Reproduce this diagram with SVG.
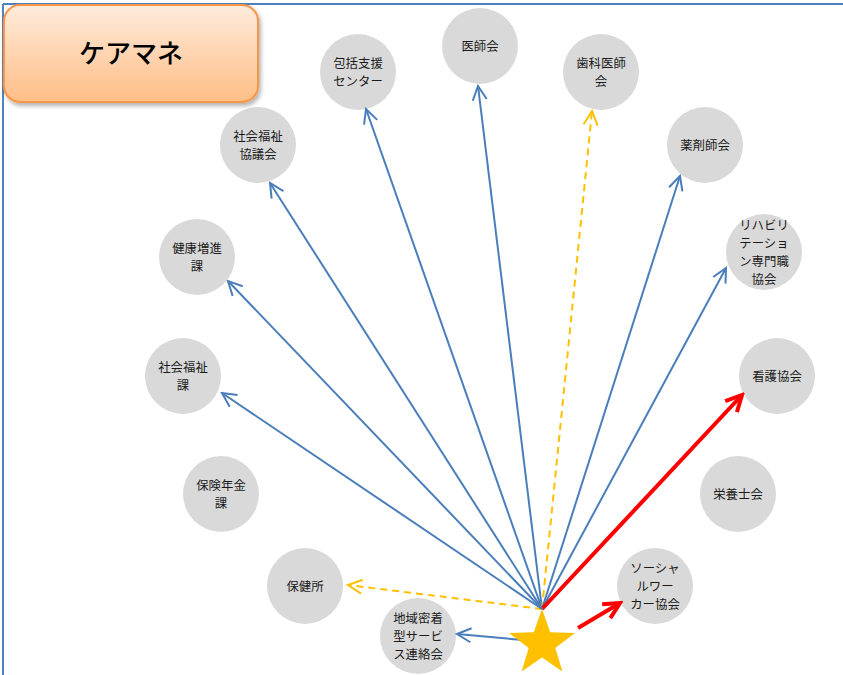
<svg xmlns="http://www.w3.org/2000/svg" width="843" height="675" viewBox="0 0 843 675">
<defs>
<linearGradient id="tg" x1="0" y1="0" x2="0" y2="1">
<stop offset="0" stop-color="#FFEBDC"/>
<stop offset="1" stop-color="#FFBE86"/>
</linearGradient>
<filter id="sh" x="-10%" y="-10%" width="130%" height="140%">
<feDropShadow dx="2" dy="3" stdDeviation="2" flood-color="#000" flood-opacity="0.3"/>
</filter>
<marker id="ab" markerUnits="userSpaceOnUse" markerWidth="18" markerHeight="18" viewBox="0 0 18 18" refX="16" refY="9" orient="auto">
<path d="M2,2 L16,9 L2,16" fill="none" stroke="#4A7EBB" stroke-width="2"/>
</marker>
<marker id="ay" markerUnits="userSpaceOnUse" markerWidth="18" markerHeight="18" viewBox="0 0 18 18" refX="16" refY="9" orient="auto">
<path d="M2,2 L16,9 L2,16" fill="none" stroke="#FFC000" stroke-width="2"/>
</marker>
<marker id="ar" markerUnits="userSpaceOnUse" markerWidth="22" markerHeight="22" viewBox="0 0 22 22" refX="19" refY="11" orient="auto">
<path d="M3,3 L19,11 L3,19" fill="none" stroke="#FF0000" stroke-width="4"/>
</marker>
</defs>
<style>
.n{fill:#D9D9D9}
.t{font-family:"Noto Sans CJK JP","Noto Sans",sans-serif;font-size:12.4px;fill:#1a1a1a;text-anchor:middle}
.b{fill:none;stroke:#4A7EBB;stroke-width:2;marker-end:url(#ab)}
.y{fill:none;stroke:#FFC000;stroke-width:2;stroke-dasharray:7,5;marker-end:url(#ay)}
.r{fill:none;stroke:#FF0000;stroke-width:4;marker-end:url(#ar)}
</style>
<rect width="843" height="675" fill="#fff"/>
<g id="frame">
<line x1="3" y1="4" x2="843" y2="4" stroke="#4F81BD" stroke-width="2"/>
<line x1="3" y1="4" x2="3" y2="675" stroke="#4F81BD" stroke-width="2"/>
</g>
<g id="n-hokatsu"><circle class="n" cx="358" cy="72" r="38"/><text class="t" x="358" y="68">包括支援</text><text class="t" x="358" y="86">センター</text></g>
<g id="n-ishikai"><circle class="n" cx="480" cy="46" r="38"/><text class="t" x="480" y="51">医師会</text></g>
<g id="n-shika"><circle class="n" cx="601" cy="72" r="38"/><text class="t" x="601" y="68">歯科医師</text><text class="t" x="601" y="86">会</text></g>
<g id="n-yakuzai"><circle class="n" cx="705" cy="145" r="38"/><text class="t" x="705" y="150">薬剤師会</text></g>
<g id="n-reha"><circle class="n" cx="764" cy="252" r="38"/><text class="t" x="764" y="230">リハビリ</text><text class="t" x="764" y="248">テーショ</text><text class="t" x="764" y="266">ン専門職</text><text class="t" x="764" y="284">協会</text></g>
<g id="n-kango"><circle class="n" cx="777" cy="376" r="38"/><text class="t" x="777" y="381">看護協会</text></g>
<g id="n-eiyo"><circle class="n" cx="738" cy="494" r="38"/><text class="t" x="738" y="499">栄養士会</text></g>
<g id="n-sw"><circle class="n" cx="655" cy="586" r="38"/><text class="t" x="655" y="573">ソーシャ</text><text class="t" x="655" y="591">ルワー</text><text class="t" x="655" y="609">カー協会</text></g>
<g id="n-chiiki"><circle class="n" cx="418" cy="636" r="38"/><text class="t" x="418" y="623">地域密着</text><text class="t" x="418" y="641">型サービ</text><text class="t" x="418" y="659">ス連絡会</text></g>
<g id="n-hokenjo"><circle class="n" cx="305" cy="586" r="38"/><text class="t" x="305" y="591">保健所</text></g>
<g id="n-nenkin"><circle class="n" cx="221" cy="494" r="38"/><text class="t" x="221" y="490">保険年金</text><text class="t" x="221" y="508">課</text></g>
<g id="n-shakaika"><circle class="n" cx="183" cy="376" r="38"/><text class="t" x="183" y="372">社会福祉</text><text class="t" x="183" y="390">課</text></g>
<g id="n-kenko"><circle class="n" cx="197" cy="257" r="38"/><text class="t" x="197" y="253">健康増進</text><text class="t" x="197" y="271">課</text></g>
<g id="n-shakyo"><circle class="n" cx="258" cy="145" r="38"/><text class="t" x="258" y="141">社会福祉</text><text class="t" x="258" y="159">協議会</text></g>
<g id="connectors">
<line class="b" x1="542" y1="609" x2="366" y2="109"/>
<line class="b" x1="542" y1="609" x2="478" y2="86"/>
<line class="y" x1="542" y1="609" x2="592" y2="111"/>
<line class="b" x1="542" y1="609" x2="680" y2="176"/>
<line class="b" x1="542" y1="609" x2="726" y2="268"/>
<line class="r" x1="542" y1="609" x2="742" y2="395"/>
<line class="r" x1="578" y1="628" x2="620" y2="603"/>
<line class="b" x1="523" y1="640" x2="457" y2="634"/>
<line class="y" x1="542" y1="609" x2="348" y2="585"/>
<line class="b" x1="542" y1="609" x2="222" y2="393"/>
<line class="b" x1="542" y1="609" x2="228" y2="281"/>
<line class="b" x1="542" y1="609" x2="270" y2="183"/>
</g>
<g id="star">
<polygon fill="#FFC000" points="542,609 550.2,632.3 575,632.9 555.3,647.9 562.4,671.6 542,657.5 521.6,671.6 528.7,647.9 509,632.9 533.8,632.3"/>
</g>
<g id="title">
<rect x="4" y="5" width="254" height="97" rx="16" ry="16" fill="url(#tg)" stroke="#F79646" stroke-width="2" filter="url(#sh)"/>
<text x="131" y="63" font-family="'Noto Sans CJK JP','Noto Sans',sans-serif" font-size="26" font-weight="500" fill="#000" text-anchor="middle">ケアマネ</text>
</g>
</svg>
